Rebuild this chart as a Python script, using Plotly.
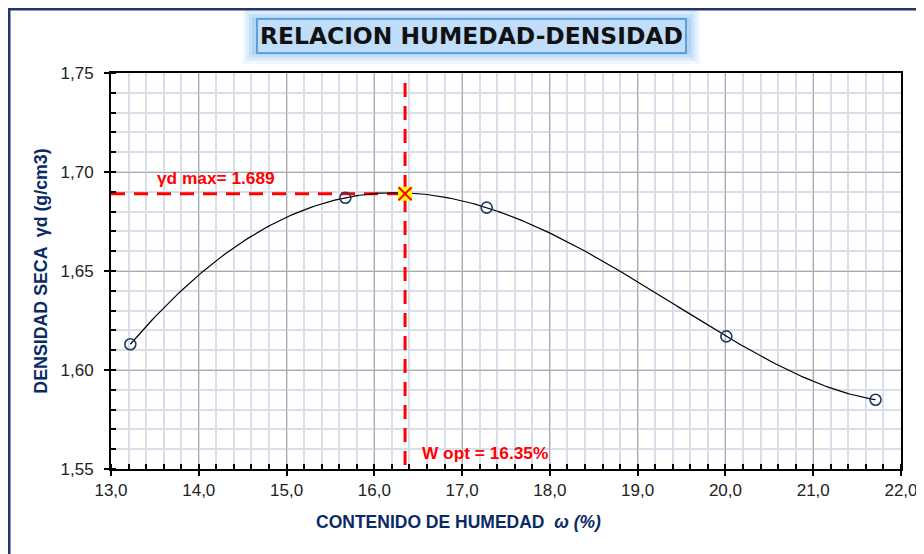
import numpy as np
import plotly.graph_objects as go

# Data
humedad = [13.22, 15.67, 17.28, 20.01, 21.71]        # ω (%)
densidad = [1.613, 1.687, 1.682, 1.617, 1.585]      # γd (g/cm3)
w_opt = 16.35
gd_max = 1.689
x_ticks = [13.0, 14.0, 15.0, 16.0, 17.0, 18.0, 19.0, 20.0, 21.0, 22.0]
y_ticks = [1.55, 1.60, 1.65, 1.70, 1.75]

# Smooth curve: polynomial trend fitted to the measured points
coef = np.polyfit(humedad, densidad, 4)
xc = np.linspace(min(humedad), max(humedad), 300)
yc = np.polyval(coef, xc)

NAVY = "#1f3864"
RED = "#ff0000"
FONT = "Liberation Sans Narrow, Arial Narrow, Liberation Sans, Arial"

# plot area in figure pixels
L, T, R, B = 103, 65, 893, 461
PW, PH = R - L, B - T
def px(x):
    return (x - L) / PW
def py(y):
    return (B - y) / PH

fig = go.Figure()

# dashed reference lines
fig.add_trace(go.Scatter(x=[13.0, w_opt], y=[gd_max, gd_max], mode="lines",
                         line=dict(color=RED, width=3, dash="14px,9px"), hoverinfo="skip"))
fig.add_trace(go.Scatter(x=[w_opt, w_opt], y=[1.745, 1.55], mode="lines",
                         line=dict(color=RED, width=3, dash="14px,9px"), hoverinfo="skip"))

fig.add_trace(go.Scatter(x=xc, y=yc, mode="lines", line=dict(color="black", width=1.2),
                         hoverinfo="skip"))
fig.add_trace(go.Scatter(x=humedad, y=densidad, mode="markers",
                         marker=dict(symbol="circle-open", size=11, color=NAVY,
                                     line=dict(width=1.6, color=NAVY))))
fig.add_trace(go.Scatter(x=[w_opt], y=[gd_max], mode="markers",
                         marker=dict(symbol="square", size=14, color="#ffff00",
                                     line=dict(width=0))))
fig.add_trace(go.Scatter(x=[w_opt], y=[gd_max], mode="markers",
                         marker=dict(symbol="x-thin-open", size=13, color=RED,
                                     line=dict(width=2, color=RED))))

axis_common = dict(
    showline=True, linecolor="black", linewidth=2, mirror=True,
    ticks="outside", ticklen=5, tickcolor="black", tickwidth=1.5,
    showgrid=True, gridcolor="#ababab", gridwidth=1,
    tickfont=dict(family=FONT, size=17, color="#222222"),
    zeroline=False,
)

fig.update_xaxes(range=[13.0, 22.0], tickvals=x_ticks, tickformat=".1f",
                 minor=dict(dtick=0.2, ticks="inside", ticklen=5, tickcolor="black",
                            showgrid=True, gridcolor="#d9dfea", gridwidth=1.5),
                 **axis_common)
fig.update_yaxes(range=[1.55, 1.75], tickvals=y_ticks, tickformat=".2f",
                 ticklabelstandoff=7,
                 minor=dict(dtick=0.01, ticks="inside", ticklen=5, tickcolor="black",
                            showgrid=True, gridcolor="#d9dfea", gridwidth=1.5),
                 title=dict(text="<b>DENSIDAD SECA  γd (g/cm3)</b>",
                            font=dict(family=FONT, size=17.8, color="#0a2a66"),
                            standoff=8),
                 **axis_common)

annotations = [
    dict(x=px(450), y=py(514), xref="paper", yref="paper", xanchor="center", yanchor="middle",
         text="<b>CONTENIDO DE HUMEDAD  <i>ω (%)</i></b>", showarrow=False,
         font=dict(family=FONT, size=17.5, color="#0a2a66")),
    dict(x=13.5, y=1.697, xref="x", yref="y", xanchor="left", yanchor="middle",
         text="<b>γd max= %.3f</b>" % gd_max, showarrow=False,
         font=dict(family=FONT, size=17.3, color=RED)),
    dict(x=16.52, y=1.558, xref="x", yref="y", xanchor="left", yanchor="middle",
         text="<b>W opt = %.2f%%</b>" % w_opt, showarrow=False,
         font=dict(family=FONT, size=17.3, color=RED)),
    dict(x=px(463.5), y=py(28), xref="paper", yref="paper", xanchor="center", yanchor="middle",
         text="<b>RELACION HUMEDAD-DENSIDAD</b>", showarrow=False,
         font=dict(family="DejaVu Sans, Verdana", size=23.4, color="#111111"),
         bgcolor="#c0ddfa", bordercolor="#5f9fdc", borderwidth=2, borderpad=2),
]

shapes = []
# soft glow behind title
for pad, alpha in [(12, 0.14), (9, 0.2), (6, 0.3), (3, 0.45)]:
    shapes.append(dict(type="rect", xref="paper", yref="paper",
                       x0=px(247 - pad), x1=px(680 + pad), y0=py(44 + pad), y1=py(12 - pad),
                       fillcolor="rgba(150,200,245,%.2f)" % alpha, line=dict(width=0),
                       layer="below"))
# outer frame
shapes.append(dict(type="rect", xref="paper", yref="paper", x0=px(1), x1=px(940),
                   y0=py(570), y1=py(1), line=dict(color=NAVY, width=3),
                   fillcolor="rgba(0,0,0,0)"))

fig.update_layout(
    width=924, height=554,
    margin=dict(l=L, r=924 - R, t=T, b=554 - B),
    paper_bgcolor="white", plot_bgcolor="white",
    separators=",.",
    showlegend=False,
    annotations=annotations,
    shapes=shapes,
)

fig.write_html("out.html")
